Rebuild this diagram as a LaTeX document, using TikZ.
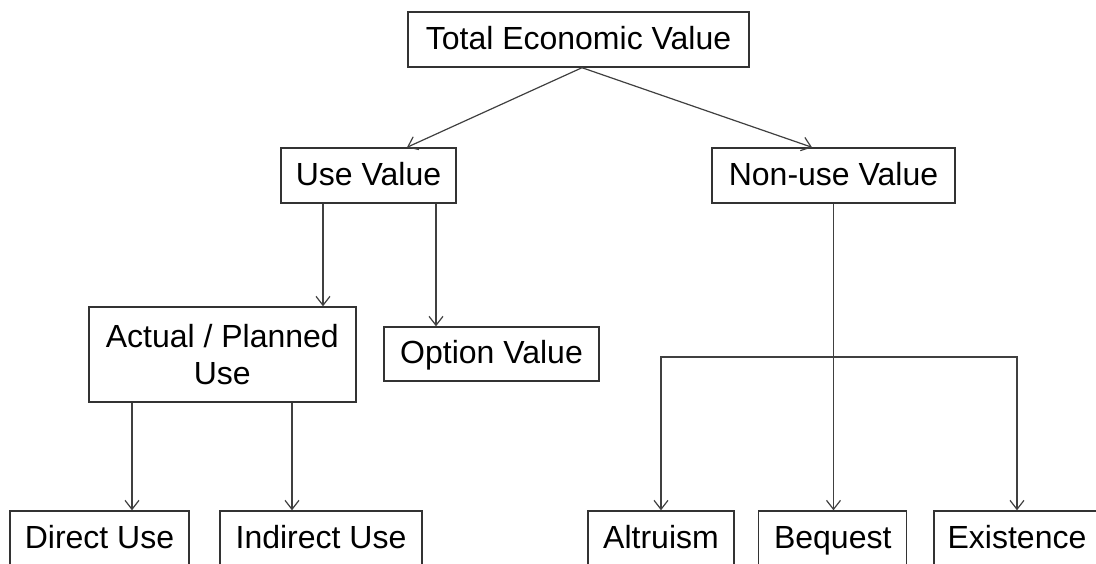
\documentclass[tikz,border=0pt]{standalone}
\usepackage{fontspec}
\setmainfont{Liberation Sans}
\usetikzlibrary{arrows.meta,calc}
\begin{document}
\begin{tikzpicture}[x=1pt,y=-1pt,
  base/.style={draw=black!80,line width=1.4pt,rectangle,inner sep=0pt,
    font=\fontsize{32}{37}\selectfont},
  box/.style={base,align=center},
  one/.style={base,text height=25.6pt,text depth=6.4pt},
  arr/.style={draw=black!75,line width=1.2pt,-{Straight Barb[length=9pt,width=14pt]}}]
\useasboundingbox[fill=white] (0,0) rectangle (1096,563);
\node[one,minimum width=341pt,minimum height=55pt] (total) at (578.5,39.5) {Total Economic Value};
\node[one,minimum width=175pt,minimum height=55pt] (use) at (368.5,175.5) {Use Value};
\node[one,minimum width=243pt,minimum height=55pt] (nonuse) at (833.5,175.5) {Non-use Value};
\node[box,minimum width=267pt,minimum height=95pt] (actual) at (222.3,354.5) {Actual / Planned\\Use};
\node[one,minimum width=215pt,minimum height=54pt] (option) at (491.5,354) {Option Value};
\node[one,minimum width=179pt,minimum height=55pt] (direct) at (99.5,538.5) {Direct Use};
\node[one,minimum width=202pt,minimum height=55pt] (indirect) at (321,538.5) {Indirect Use};
\node[one,minimum width=146pt,minimum height=55pt] (altruism) at (661,538.5) {Altruism};
\node[one,minimum width=148pt,minimum height=55pt] (bequest) at (832.75,538.5) {Bequest};
\node[one,minimum width=166pt,minimum height=55pt] (existence) at (1017,538.5) {Existence};
\coordinate (bar) at (833,357);
\draw[arr] ([xshift=3.5pt]total.south) -- ([xshift=38.5pt]use.north);
\draw[arr] ([xshift=3.5pt]total.south) -- ([xshift=-21.5pt]nonuse.north);
\draw[arr] ([xshift=-45.5pt]use.south) -- ([xshift=-45.5pt]use.south |- actual.north);
\draw[arr] ([xshift=67.5pt]use.south) -- ([xshift=67.5pt]use.south |- option.north);
\draw[arr] ([xshift=32.5pt]direct.north |- actual.south) -- ([xshift=32.5pt]direct.north);
\draw[arr] ([xshift=-29pt]indirect.north |- actual.south) -- ([xshift=-29pt]indirect.north);
\draw[arr] (nonuse.south) -- (nonuse.south |- bequest.north);
\draw[arr] (bar) -| (altruism.north);
\draw[arr] (bar) -| (existence.north);
\end{tikzpicture}
\end{document}
